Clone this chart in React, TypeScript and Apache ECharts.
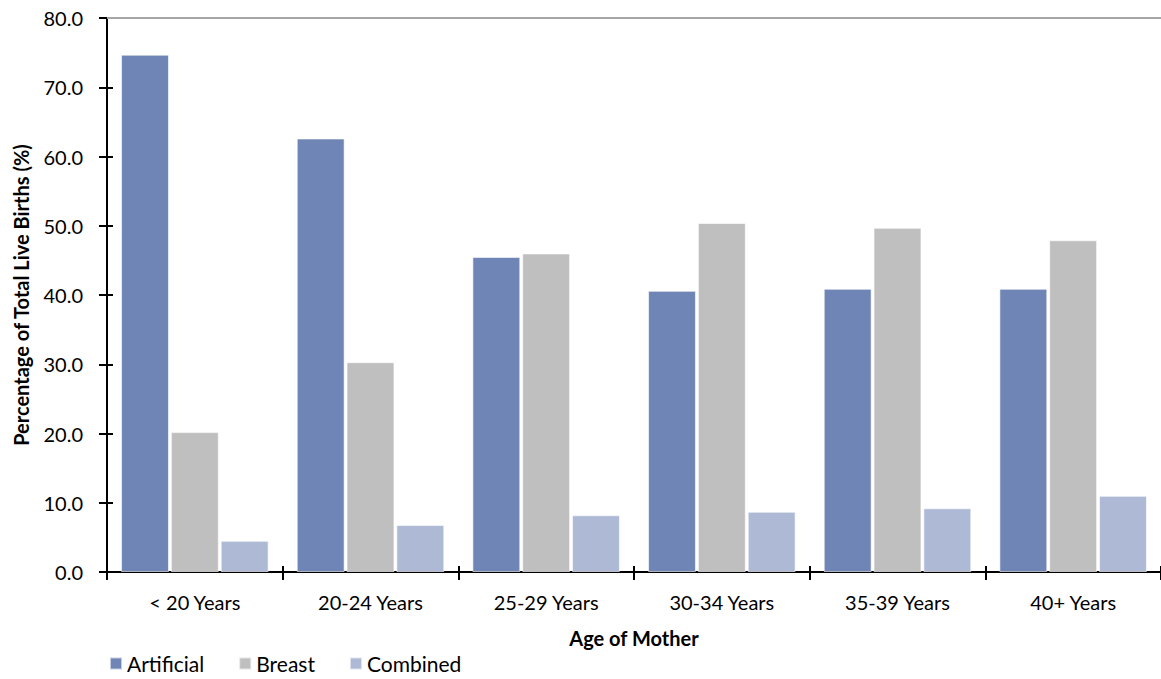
import React, { useEffect, useRef } from "react";
import * as echarts from "echarts";

const categories = ["< 20 Years", "20-24 Years", "25-29 Years", "30-34 Years", "35-39 Years", "40+ Years"];
const artificial = [74.7, 62.6, 45.5, 40.6, 40.9, 40.9];
const breast = [20.2, 30.3, 46.0, 50.4, 49.7, 47.9];
const combined = [4.5, 6.8, 8.2, 8.7, 9.2, 11.0];

const FONT = "Lato";

export default function App() {
  const ref = useRef<HTMLDivElement>(null);
  useEffect(() => {
    if (!ref.current) return;
    const chart = echarts.init(ref.current, null, { renderer: "svg" });
    const barStyle = (c: string) => ({ color: c, borderColor: "rgba(255,255,255,0.6)", borderWidth: 1 });
    chart.setOption({
      animation: false,
      backgroundColor: "#ffffff",
      textStyle: { fontFamily: FONT },
      grid: { left: 107, top: 18, right: 0, bottom: 107, containLabel: false },
      legend: {
        left: 109,
        top: 653,
        padding: 0,
        itemWidth: 12,
        itemHeight: 12,
        itemGap: 34,
        icon: "rect",
        textStyle: { fontFamily: FONT, fontSize: 21, color: "#000" },
        data: ["Artificial", "Breast", "Combined"],
      },
      xAxis: [
        {
          type: "category",
          data: categories,
          name: "Age of Mother",
          nameLocation: "middle",
          nameGap: 56,
          nameTextStyle: { fontFamily: FONT, fontSize: 20, fontWeight: "bold", color: "#000" },
          axisLine: { lineStyle: { color: "#000", width: 2 } },
          axisTick: { show: true, length: 8, lineStyle: { color: "#000", width: 2 } },
          axisLabel: { fontFamily: FONT, fontSize: 20, color: "#000", margin: 20 },
        },
        {
          type: "category",
          data: categories,
          position: "bottom",
          axisLine: { show: false },
          axisTick: { show: true, inside: true, length: 6, lineStyle: { color: "#000", width: 2 } },
          axisLabel: { show: false },
        },
      ],
      yAxis: [
        {
          type: "value",
          min: 0,
          max: 80,
          interval: 10,
          name: "Percentage of Total Live Births (%)",
          nameLocation: "middle",
          nameGap: 76,
          nameTextStyle: { fontFamily: FONT, fontSize: 20, fontWeight: "bold", color: "#000" },
          axisLine: { show: true, lineStyle: { color: "#000", width: 2 } },
          axisTick: { show: true, length: 8, lineStyle: { color: "#000", width: 2 } },
          axisLabel: { fontFamily: FONT, fontSize: 20, color: "#000", margin: 24, formatter: (v: number) => v.toFixed(1) },
          splitLine: { show: false },
        },
        {
          type: "value",
          min: 0,
          max: 80,
          interval: 10,
          position: "left",
          axisLine: { show: false },
          axisTick: { show: true, inside: true, length: 6, lineStyle: { color: "#000", width: 2 } },
          axisLabel: { show: false },
          splitLine: { show: false },
        },
      ],
      series: [
        {
          name: "Artificial",
          type: "bar",
          data: artificial,
          itemStyle: barStyle("#6e85b5"),
          barGap: "4%",
          barCategoryGap: "16%",
          markLine: {
            silent: true,
            symbol: "none",
            label: { show: false },
            lineStyle: { color: "#a6a6a6", width: 2, type: "solid" },
            data: [{ yAxis: 80 }],
          },
        },
        { name: "Breast", type: "bar", data: breast, itemStyle: barStyle("#bfbfbf"), barGap: "4%", barCategoryGap: "16%" },
        { name: "Combined", type: "bar", data: combined, itemStyle: barStyle("#aeb9d6"), barGap: "4%", barCategoryGap: "16%" },
      ],
    });
    return () => chart.dispose();
  }, []);
  return <div ref={ref} style={{ position: "absolute", left: 0, top: 0, width: 1161, height: 679 }} />;
}
